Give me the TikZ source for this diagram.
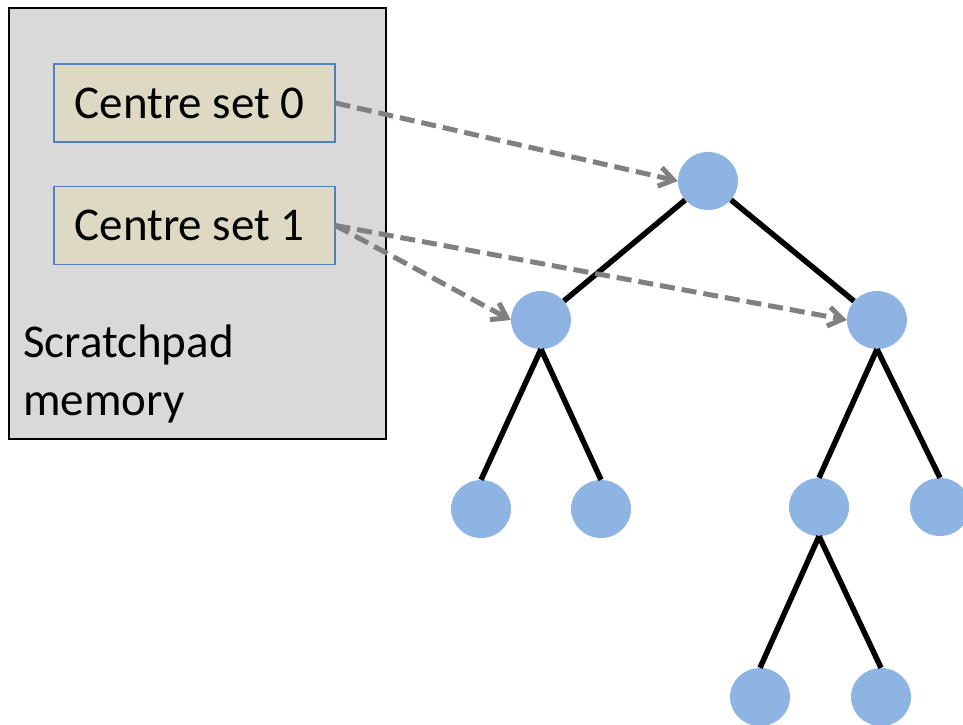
\documentclass[tikz,border=0pt]{standalone}
\usepackage{fontspec}
\setmainfont{Carlito}
\usetikzlibrary{shapes.geometric,arrows.meta}

\definecolor{padgrey}{HTML}{D9D9D9}
\definecolor{settan}{HTML}{DDD9C3}
\definecolor{setblue}{HTML}{4F81BD}
\definecolor{treeblue}{HTML}{8EB4E3}
\definecolor{linkgrey}{HTML}{808080}

% left-aligned label inside a centre set box
\newcommand{\setlabel}[1]{\makebox[239pt][l]{#1}}

\tikzset{
  padbox/.style={draw=black, line width=1.5pt, fill=padgrey, inner sep=0pt,
    minimum width=377pt, minimum height=431pt, anchor=north west},
  setbox/.style={draw=setblue, line width=1.5pt, fill=settan,
    inner xsep=21pt, inner ysep=0pt,
    minimum height=78pt, anchor=west,
    font=\fontsize{47}{56}\selectfont},
  padlabel/.style={anchor=base west, inner sep=0pt,
    font=\fontsize{47}{56}\selectfont},
  treenode/.style={ellipse, fill=treeblue, draw=none, inner sep=0pt,
    minimum width=60pt, minimum height=58pt},
  treeedge/.style={draw=black, line width=5.5pt},
  setlink/.style={draw=linkgrey, line width=5pt, dash pattern=on 15pt off 7pt,
    -{Straight Barb[length=14pt, width=19pt]}}
}

\begin{document}
\begin{tikzpicture}[x=1pt, y=-1pt]
  \useasboundingbox (0,0) rectangle (963,724);

  % scratchpad memory with its two centre sets
  \node[padbox] (pad) at (8,7) {};
  \node[setbox] (set0) at (53,103) {\setlabel{Centre set 0}};
  \node[setbox] (set1) at (53,225.5) {\setlabel{Centre set 1}};
  \node[padlabel] (padtxt1) at (23,357) {Scratchpad};
  \node[padlabel] (padtxt2) at (23,415) {memory};

  % tree of nodes
  \node[treenode] (root) at (708,181) {};
  \node[treenode] (l)    at (541,320) {};
  \node[treenode] (r)    at (877,320) {};
  \node[treenode] (ll)   at (481,509) {};
  \node[treenode] (lr)   at (601,509) {};
  \node[treenode] (rl)   at (819,507) {};
  \node[treenode] (rr)   at (940,507) {};
  \node[treenode] (rll)  at (760,697) {};
  \node[treenode] (rlr)  at (881,697) {};

  \draw[treeedge] (root) -- (l);
  \draw[treeedge] (root) -- (r);
  \draw[treeedge] (l.south) -- (ll.north);
  \draw[treeedge] (l.south) -- (lr.north);
  \draw[treeedge] (r.south) -- (rl.north);
  \draw[treeedge] (r.south) -- (rr.north);
  \draw[treeedge] (rl.south) -- (rll.north);
  \draw[treeedge] (rl.south) -- (rlr.north);

  % links from the centre sets to tree nodes
  \draw[setlink] (set0.east) -- (root.west);
  \draw[setlink] (set1.east) -- (l.west);
  \draw[setlink] (set1.east) -- (r.west);
\end{tikzpicture}
\end{document}
